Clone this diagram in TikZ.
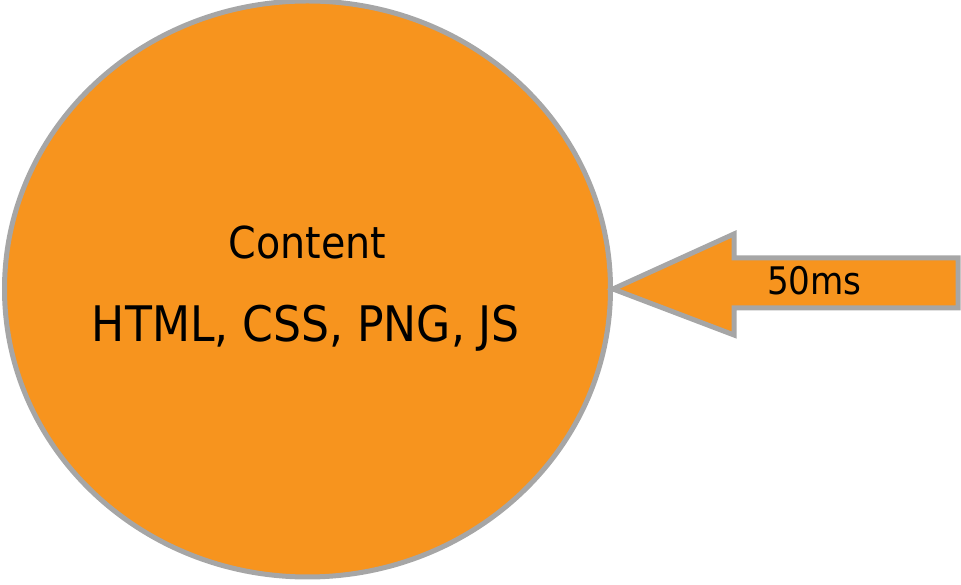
\documentclass[tikz,border=0pt]{standalone}
\usepackage{fontspec}
\setmainfont{DejaVu Sans Condensed}
\usetikzlibrary{shapes.geometric}
\definecolor{fillorange}{RGB}{247,148,30}
\definecolor{edgegray}{RGB}{166,166,166}
\tikzset{
  blob/.style={ellipse, draw=edgegray, fill=fillorange, line width=5pt, inner sep=0pt},
  arrowshape/.style={draw=edgegray, fill=fillorange, line width=5pt, line join=miter},
  txt/.style={anchor=base, inner sep=0pt, text=black}
}
\begin{document}
\begin{tikzpicture}[x=1pt,y=1pt]
  \useasboundingbox (0,0) rectangle (961,585);
  % content ellipse
  \node[blob, minimum width=606pt, minimum height=576pt] (content) at (307.5,296) {};
  % incoming arrow, tip touching the ellipse
  \coordinate (tip) at (content.east);
  \draw[arrowshape] (tip) -- (734,351) -- (734,327) -- (958,327)
       -- (958,277) -- (734,277) -- (734,250) -- cycle;
  % labels
  \node[txt, font=\fontsize{44}{44}\selectfont] (title) at (307.5,326) {Content};
  \node[txt, font=\fontsize{49}{49}\selectfont] (types) at (306,243) {HTML, CSS, PNG, JS};
  \node[txt, font=\fontsize{38}{38}\selectfont] (delay) at (814.5,290) {50ms};
\end{tikzpicture}
\end{document}
